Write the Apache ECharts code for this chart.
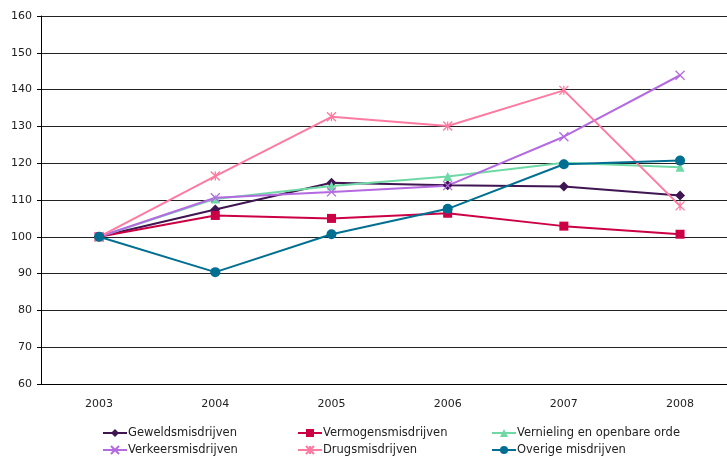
<!DOCTYPE html>
<html>
<head>
<meta charset="utf-8">
<script src="https://cdn.jsdelivr.net/npm/echarts@6/dist/echarts.min.js"></script>
<style>
  html, body { margin: 0; padding: 0; background: #fff; }
  #chart { width: 727px; height: 457px; }
</style>
</head>
<body>
<div id="chart"></div>
<script>
// Index of registered crime per category (2003 = 100)
const years = [2003, 2004, 2005, 2006, 2007, 2008];
const geweldsmisdrijven = [100, 107.4, 114.7, 114.0, 113.7, 111.2];
const vermogensmisdrijven = [100, 105.8, 105.0, 106.4, 102.9, 100.7];
const vernieling = [100, 110.3, 113.8, 116.4, 120.1, 118.9];
const verkeersmisdrijven = [100, 110.6, 112.2, 113.9, 127.2, 143.9];
const drugsmisdrijven = [100, 116.5, 132.6, 130.1, 139.8, 108.4];
const overigeMisdrijven = [100, 90.4, 100.7, 107.6, 119.7, 120.7];

const FONT = 'DejaVu Sans';
const crossPath = 'path://M0,0L10,10M10,0L0,10';
const starPath = 'path://M0,0L10,10M10,0L0,10M5,0L5,10';

function lineSeries(name, values, color, symbol, size, stroked) {
  return {
    name: name,
    type: 'line',
    data: years.map((y, i) => [y, values[i]]),
    symbol: symbol,
    symbolSize: size,
    showAllSymbol: true,
    lineStyle: { color: color, width: 2 },
    itemStyle: stroked
      ? { color: 'rgba(0,0,0,0)', borderColor: color, borderWidth: 1.3 }
      : { color: color, borderColor: color, borderWidth: 0 },
    emphasis: { disabled: true },
    animation: false
  };
}

const series = [
  lineSeries('Geweldsmisdrijven', geweldsmisdrijven, '#3f1552', 'diamond', 10, false),
  lineSeries('Vermogensmisdrijven', vermogensmisdrijven, '#cc0044', 'rect', 9, false),
  lineSeries('Vernieling en openbare orde', vernieling, '#6fd9a6', 'triangle', 9, false),
  lineSeries('Verkeersmisdrijven', verkeersmisdrijven, '#b46ae0', crossPath, 9, true),
  lineSeries('Drugsmisdrijven', drugsmisdrijven, '#ff7aa0', starPath, 9, true),
  lineSeries('Overige misdrijven', overigeMisdrijven, '#006f91', 'circle', 10, false)
];

// one legend entry per slot: three columns, two rows
function legendItem(name, left, top) {
  return {
    orient: 'horizontal',
    left: left,
    top: top,
    padding: 0,
    itemWidth: 24,
    itemHeight: 10,
    data: [name],
    textStyle: { fontFamily: FONT, fontSize: 11.5, color: '#222', padding: [0, 0, 0, -4] },
    selectedMode: false
  };
}

// half a year of padding on the left; the plot runs on past the right edge
const xMin = 2002.5;
const xMax = 2008.404;

const chart = echarts.init(document.getElementById('chart'), null, { renderer: 'canvas' });
chart.setOption({
  backgroundColor: '#fff',
  animation: false,
  grid: { left: 41, top: 16, right: 0, bottom: 73, containLabel: false },
  xAxis: {
    type: 'value',
    min: xMin,
    max: xMax,
    axisLine: { lineStyle: { color: '#000', width: 1 } },
    axisTick: { show: false },
    axisLabel: {
      fontFamily: FONT, fontSize: 11, color: '#222', margin: 15,
      customValues: years,
      formatter: v => String(v)
    },
    splitLine: { show: false }
  },
  yAxis: {
    type: 'value',
    min: 60,
    max: 160,
    interval: 10,
    axisLine: { show: true, lineStyle: { color: '#000', width: 1 } },
    axisTick: { show: true, length: 4, inside: false, lineStyle: { color: '#000' } },
    axisLabel: { fontFamily: FONT, fontSize: 11, color: '#222', margin: 9 },
    splitLine: { show: true, lineStyle: { color: '#222', width: 1 } }
  },
  legend: [
    legendItem('Geweldsmisdrijven', 102, 427),
    legendItem('Verkeersmisdrijven', 102, 444),
    legendItem('Vermogensmisdrijven', 297, 427),
    legendItem('Drugsmisdrijven', 297, 444),
    legendItem('Vernieling en openbare orde', 491, 427),
    legendItem('Overige misdrijven', 491, 444)
  ],
  series: series
});
</script>
</body>
</html>
